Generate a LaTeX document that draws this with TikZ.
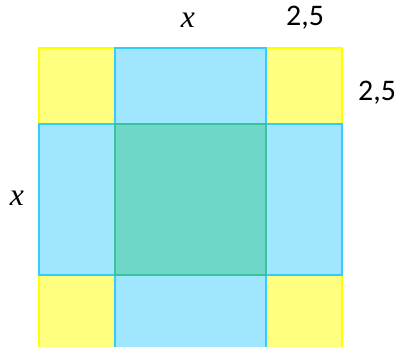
\documentclass[tikz,border=0pt]{standalone}
\usepackage{fontspec}
\setmainfont{Carlito}
\newfontfamily\varfont{Liberation Serif}
\usepackage{tikz}

\definecolor{gelbfill}{HTML}{FFFF80}
\definecolor{gelbrand}{HTML}{FFFF00}
\definecolor{blaufill}{HTML}{A0E6FF}
\definecolor{blaurand}{HTML}{33CCFF}
\definecolor{gruenfill}{HTML}{6ED7C8}
\definecolor{gruenrand}{HTML}{3CC0A2}

\tikzset{
  gelbsq/.style={fill=gelbfill, draw=gelbrand, line width=1.2pt},
  blaurect/.style={fill=blaufill, draw=blaurand, line width=1.2pt},
  gruensq/.style={fill=gruenfill, draw=gruenrand, line width=1.2pt},
  mass/.style={font=\fontsize{17}{19}\selectfont},
  var/.style={font=\fontsize{18}{20}\selectfont\varfont\itshape}
}

\begin{document}
\begin{tikzpicture}[x=0.02cm, y=-0.02cm]
\useasboundingbox (0,0) rectangle (398,346);
\clip (0,0) rectangle (398,346);

% Ecken
\draw [gelbsq] (39,48) rectangle (115,124); \draw [gelbsq] (266,48) rectangle (342,124);
\draw [gelbsq] (39,275) rectangle (115,351); \draw [gelbsq] (266,275) rectangle (342,351);

% Streifen
\draw [blaurect] (115,48) rectangle (266,124); \draw [blaurect] (115,275) rectangle (266,351);
\draw [blaurect] (39,124) rectangle (115,275); \draw [blaurect] (266,124) rectangle (342,275);

% Quadrat in der Mitte
\draw [gruensq] (115,124) rectangle (266,275);

% Beschriftung
\node [var] (xoben) at (188,20) {x}; \node [mass] (aoben) at (305,18) {2,5};
\node [mass] (arechts) at (377,93) {2,5}; \node [var] (xlinks) at (17,198) {x};

\end{tikzpicture}
\end{document}
